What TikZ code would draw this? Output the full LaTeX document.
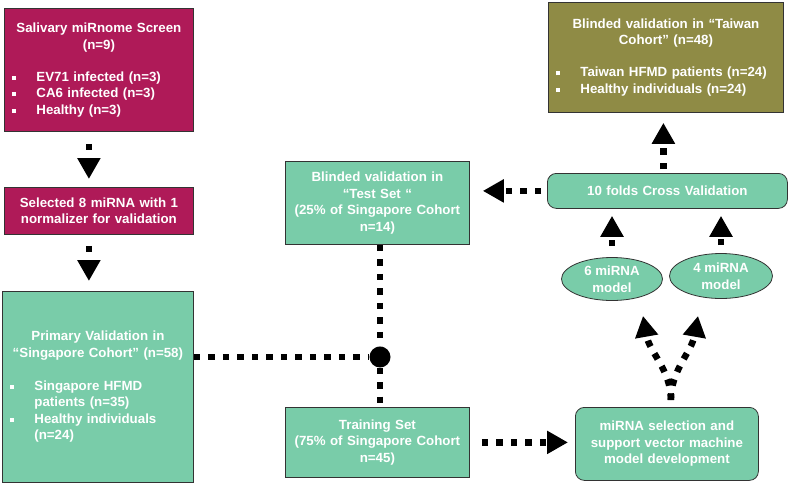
\documentclass[tikz,border=0pt]{standalone}
\usepackage{fontspec}
\setmainfont{Liberation Sans}
\usepackage{xcolor}
\usetikzlibrary{arrows.meta,positioning,shapes.geometric}
\definecolor{Berry}{HTML}{AF1A58}
\definecolor{Mint}{HTML}{79CCA9}
\definecolor{Moss}{HTML}{8F8B45}
\tikzset{
>={Triangle[width=22pt,length=21pt]},
  box/.style={rectangle, draw=black!80, line width=0.8pt, text=white, font=\fontsize{13.3}{16.5}\selectfont\bfseries, inner xsep=8pt, inner ysep=0pt, anchor=north west},
  redbox/.style={box, fill=Berry},
  greenbox/.style={box, fill=Mint},
  olivebox/.style={box, fill=Moss},
  roundbox/.style={box, fill=Mint, rounded corners=9pt, align=center},
  model/.style={ellipse, draw=black!80, line width=0.8pt, fill=Mint, text=white, font=\fontsize{13.3}{16.5}\selectfont\bfseries, align=center, inner sep=0pt},
  dotline/.style={draw, line width=6.5pt, dash pattern=on 6.5pt off 8pt},
  dotlineR/.style={dotline, ->}
}
\newcommand{\bul}{\makebox[24pt][l]{\raisebox{1.5pt}{\rule{4pt}{4pt}}}}
\newcommand{\hang}{\hspace*{24pt}}

\begin{document}
\begin{tikzpicture}[x=1pt, y=-1pt]
    \useasboundingbox (0,0) rectangle (790,485);
    % left column
    \node [redbox, text width=173pt, minimum height=123pt] (screen) at (4,8) {{\centering Salivary miRnome Screen\\(n=9)\par}\vspace{15.5pt}{\raggedright\bul EV71 infected (n=3)\\\bul CA6 infected (n=3)\\\bul Healthy (n=3)\par}};
    \node [redbox, text width=173pt, minimum height=47pt, align=center] (select) at (4,187) {Selected 8 miRNA with 1\\normalizer for validation};
    \node [greenbox, text width=175pt, minimum height=191pt] (primary) at (2,291) {{\centering Primary Validation in\\“Singapore Cohort” (n=58)\par}\vspace{16.5pt}{\raggedright\bul Singapore HFMD\\\hang patients (n=35)\\\bul Healthy individuals\\\hang (n=24)\par}};
    % middle column
    \node [greenbox, text width=168pt, minimum height=83pt, align=center] (testset) at (285,161) {Blinded validation in\\“Test Set “\\(25\% of Singapore Cohort\\n=14)};
    \node [greenbox, text width=168pt, minimum height=70pt, align=center] (training) at (285,407) {Training Set\\(75\% of Singapore Cohort\\n=45)};
    \node [circle, fill=black, minimum size=21pt, inner sep=0pt] (junction) at (380,357) {};
    % right column
    \node [olivebox, text width=219pt, minimum height=110pt] (taiwan) at (548,2) {{\centering Blinded validation in “Taiwan\\Cohort” (n=48)\par}\vspace{15.5pt}{\raggedright\bul Taiwan HFMD patients (n=24)\\\bul Healthy individuals (n=24)\par}};
    \node [roundbox, text width=224pt, minimum height=35pt] (crossval) at (547,173) {10 folds Cross Validation};
    \node [model, minimum width=101pt, minimum height=43pt] (sixmodel) at (612,279) {6 miRNA\\model};
    \node [model, minimum width=103pt, minimum height=45pt] (fourmodel) at (721,276) {4 miRNA\\model};
    \node [roundbox, text width=167pt, minimum height=73pt] (svm) at (575,407) {miRNA selection and\\support vector machine\\model development};
    % connectors
    \draw [dotlineR, shorten <=12pt, shorten >=8pt] ([xshift=-10pt]screen.south) -- ([xshift=-10pt]select.north);
    \draw [dotlineR, shorten <=11pt, shorten >=10pt] ([xshift=-10pt]select.south) -- ([xshift=-10pt]select.south |- primary.north);
    \draw [dotline] (primary.east |- junction) -- (junction);
    \draw [dotline] (testset.south -| junction) -- (junction) -- (training.north -| junction);
    \draw [dotlineR, shorten <=12pt, shorten >=7pt] (training.east) -- (training.east -| svm.west);
    \draw [dotlineR, shorten <=7pt] ([xshift=4pt]svm.north) to[out=90, in=-80] ([xshift=31pt, yshift=-15pt]sixmodel.south);
    \draw [dotlineR, shorten <=7pt] ([xshift=4pt]svm.north) to[out=90, in=-100] ([xshift=-23pt, yshift=-17pt]fourmodel.south);
    \draw [dotlineR, shorten <=11pt, shorten >=7pt] (sixmodel.north) -- (sixmodel.north |- crossval.south);
    \draw [dotlineR, shorten <=8pt, shorten >=7pt] (fourmodel.north) -- (fourmodel.north |- crossval.south);
    \draw [dotlineR, shorten <=4pt, shorten >=10pt] ([xshift=-4pt]crossval.north) -- ([xshift=-4pt]crossval.north |- taiwan.south);
    \draw [dotlineR, shorten <=6pt, shorten >=13pt] (crossval.west) -- (crossval.west -| testset.east);
\end{tikzpicture}
\end{document}
